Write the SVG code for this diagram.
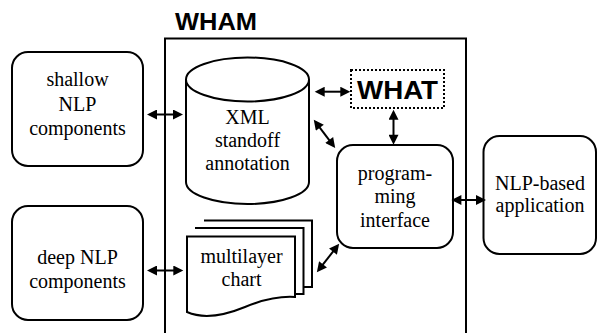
<svg xmlns="http://www.w3.org/2000/svg" width="597" height="333" viewBox="0 0 597 333">
<style>
.box{fill:#fff;stroke:#000;stroke-width:2}
.t{font-family:"Liberation Serif","Times New Roman",serif;font-size:20px;fill:#000;text-anchor:middle}
.b{font-family:"Liberation Sans",Arial,sans-serif;font-weight:bold;fill:#000}
.c{stroke:#000;stroke-width:2;fill:none;marker-start:url(#ah);marker-end:url(#ah)}
</style>
<defs>
<marker id="ah" viewBox="0 0 10 10" refX="7" refY="5" markerWidth="11" markerHeight="10" markerUnits="userSpaceOnUse" orient="auto-start-reverse">
<path d="M0,0 L10,5 L0,10 Z" fill="#000"/>
</marker>
</defs>
<rect width="597" height="333" fill="#fff"/>
<g id="wham">
<path d="M165,340 V38.5 H466 V340" fill="none" stroke="#000" stroke-width="2"/>
<text class="b" x="175" y="30" font-size="24" textLength="82" lengthAdjust="spacingAndGlyphs">WHAM</text>
</g>
<g id="shallow">
<rect class="box" x="12" y="52" width="131" height="114" rx="16"/>
<text class="t" x="77.5" y="86">shallow</text>
<text class="t" x="77.5" y="111">NLP</text>
<text class="t" x="77.5" y="135">components</text>
</g>
<g id="deep">
<rect class="box" x="12" y="206" width="131" height="114" rx="16"/>
<text class="t" x="77.5" y="264">deep NLP</text>
<text class="t" x="77.5" y="288">components</text>
</g>
<g id="xml">
<path class="box" d="M186,79.5 A61.5,22 0 0 1 309,79.5 V182 A61.5,22 0 0 1 186,182 Z"/>
<path d="M186,79.5 A61.5,22 0 0 0 309,79.5" fill="none" stroke="#000" stroke-width="2"/>
<text class="t" x="247.5" y="124">XML</text>
<text class="t" x="247.5" y="147">standoff</text>
<text class="t" x="247.5" y="170">annotation</text>
</g>
<g id="chart">
<path class="box" d="M204,220.5 H312 V287 H303"/>
<path class="box" d="M195,228 H303.5 V294 H295"/>
<path class="box" d="M187,236.5 H295 V297 C280,296 262,300 245,307 C228,314 205,320 187,312 Z"/>
<text class="t" x="241.5" y="263">multilayer</text>
<text class="t" x="241.5" y="286">chart</text>
</g>
<g id="prog">
<rect class="box" x="337" y="145" width="116" height="103" rx="16"/>
<text class="t" x="395" y="180">program-</text>
<text class="t" x="395" y="203">ming</text>
<text class="t" x="395" y="227">interface</text>
</g>
<g id="app">
<rect class="box" x="483.5" y="136" width="112.5" height="118" rx="16"/>
<text class="t" x="540" y="190">NLP-based</text>
<text class="t" x="540" y="212">application</text>
</g>
<g id="what">
<rect x="351" y="70" width="93" height="38" fill="#fff" stroke="#000" stroke-width="2" stroke-dasharray="2 2"/>
<text class="b" x="357" y="98.5" font-size="26" textLength="81" lengthAdjust="spacingAndGlyphs">WHAT</text>
</g>
<g id="connectors">
<line class="c" x1="150" y1="114.5" x2="180" y2="114.5"/>
<line class="c" x1="150" y1="270.5" x2="180.3" y2="270.5"/>
<line class="c" x1="317.7" y1="91.7" x2="347.3" y2="91.7"/>
<line class="c" x1="393.5" y1="112.7" x2="393.5" y2="141.8"/>
<line class="c" x1="315.6" y1="122.1" x2="333.4" y2="145.6"/>
<line class="c" x1="318.7" y1="269.9" x2="337.3" y2="246.1"/>
<line class="c" x1="454.4" y1="200" x2="483" y2="200"/>
</g>
</svg>
